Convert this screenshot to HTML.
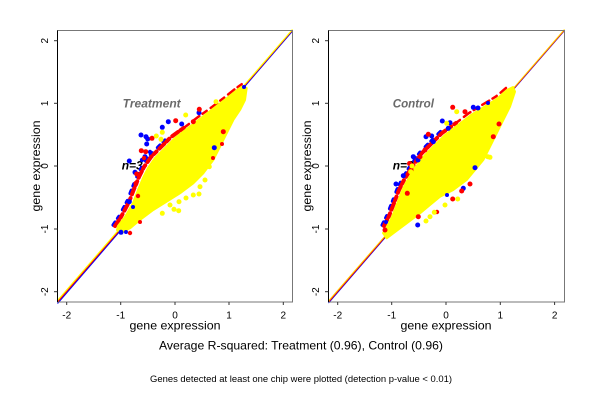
<!DOCTYPE html>
<html><head><meta charset="utf-8"><style>
html,body{margin:0;padding:0;background:#fff;}
svg{display:block;}
text{font-family:"Liberation Sans",Arial,sans-serif;}
</style></head><body>
<svg width="600" height="400" viewBox="0 0 600 400" xmlns="http://www.w3.org/2000/svg">
<rect width="600" height="400" fill="#fff"/>

<!-- ===== LEFT PANEL ===== -->
<g>
  <line x1="57.5" y1="303.5" x2="292.5" y2="31" stroke="#0000ff" stroke-width="1.2"/>
  <line x1="57.5" y1="302" x2="292.5" y2="30" stroke="#ff0000" stroke-width="1.2"/>
  <line x1="57.5" y1="300.5" x2="292.5" y2="29.5" stroke="#ffff00" stroke-width="1.2"/>
  <text x="122.7" y="107.3" font-size="12" font-weight="bold" font-style="italic" fill="#6a6a6a" textLength="58" lengthAdjust="spacingAndGlyphs">Treatment</text>
  <text x="121.7" y="169.5" font-size="12" font-weight="bold" font-style="italic" fill="#000" textLength="21" lengthAdjust="spacingAndGlyphs">n=3</text>
  <!-- fringe -->
  <polyline fill="none" stroke="#0000ff" stroke-width="4" stroke-dasharray="3 5 2 8" stroke-linecap="round" transform="translate(-1.5,-1)" points="115,226 121,217 129,202 134,189 139,177 144,167 151,157 161,147 171,137"/>
  <polyline fill="none" stroke="#ff0000" stroke-width="4" stroke-dasharray="7 3 4 4" stroke-linecap="round" points="115,226 121,217 129,202 134,189 139,177 144,167 151,157 161,147 171,137 185,127"/>
  <polyline fill="none" stroke="#ff0000" stroke-width="2.5" stroke-dasharray="5 5 8 4" stroke-linecap="round" points="185,127 198,117 212,107 225,97 235,89 242,84"/>
  <polygon fill="#ffff00" stroke="#ffff00" stroke-width="2" stroke-linejoin="round" points="118,226 125,217 133,203 138,190 143,178 148,168 155,158 165,148 175,138 188,128 201,118 214,108 227,98 237,90 243,86 246.7,88 245,100 240,110 233.3,120 226.7,133.3 220,146.7 213.3,160 203.3,173.3 193.3,183.3 180,193.3 166.7,201.7 153.3,210 140,220 130,228.3 121.7,232.7 117,230"/>
  <!-- outliers -->
  <g fill="#0000ff">
    <circle cx="168.3" cy="121.7" r="2.5"/><circle cx="141" cy="135" r="2.5"/>
    <circle cx="162.3" cy="127.3" r="2.5"/><circle cx="147.7" cy="139" r="2.5"/>
    <circle cx="146.7" cy="144" r="2.5"/><circle cx="129.3" cy="161" r="2.5"/>
    <circle cx="135" cy="172.3" r="2.5"/><circle cx="145" cy="156.7" r="2.5"/>
    <circle cx="181.7" cy="124" r="2.5"/><circle cx="146" cy="136.7" r="2.5"/>
    <circle cx="129.3" cy="201.7" r="2.5"/><circle cx="214.3" cy="147.7" r="2.5"/>
    <circle cx="199" cy="112.7" r="2.5"/><circle cx="121" cy="232.3" r="2.5"/>
    <circle cx="142" cy="160" r="2.2"/><circle cx="150" cy="152" r="2.2"/>
    <circle cx="133" cy="207" r="2"/><circle cx="126" cy="232" r="2"/>
    <circle cx="244" cy="87" r="2"/>
  </g>
  <g fill="#ff0000">
    <circle cx="199.3" cy="109.3" r="2.5"/><circle cx="175.7" cy="120.7" r="2.5"/>
    <circle cx="193.3" cy="121.7" r="2.5"/><circle cx="141.3" cy="150.7" r="2.5"/>
    <circle cx="145.7" cy="151.7" r="2.5"/><circle cx="152" cy="138.3" r="2.5"/>
    <circle cx="136" cy="183.3" r="2.5"/><circle cx="223.3" cy="131.7" r="2.5"/>
    <circle cx="136.7" cy="174" r="2.5"/><circle cx="138" cy="196" r="2.2"/>
    <circle cx="130" cy="233" r="2.2"/><circle cx="213" cy="158" r="2"/>
    <circle cx="222" cy="144" r="2"/><circle cx="140" cy="222" r="2"/>
    <circle cx="144" cy="158" r="2.2"/>
  </g>
  <g fill="#ffff00">
    <circle cx="216" cy="101.7" r="2.5"/><circle cx="199" cy="194" r="2.5"/>
    <circle cx="193.3" cy="195" r="2.5"/><circle cx="179" cy="201.7" r="2.5"/>
    <circle cx="174" cy="209.3" r="2.5"/><circle cx="162.3" cy="213.3" r="2.5"/>
    <circle cx="178.7" cy="210.7" r="2.5"/><circle cx="209.3" cy="166.7" r="2.5"/>
    <circle cx="200" cy="186.7" r="2.5"/><circle cx="156.3" cy="136" r="2.5"/>
    <circle cx="162.3" cy="132.3" r="2.5"/><circle cx="185.7" cy="115" r="2.5"/>
    <circle cx="161" cy="139.3" r="2.5"/><circle cx="205" cy="180" r="2.5"/>
    <circle cx="170" cy="205" r="2.5"/><circle cx="186" cy="198" r="2.5"/>
  </g>
  <rect x="57.5" y="30.5" width="235" height="271.5" fill="none" stroke="#777" stroke-width="1"/>
  <line x1="57.5" y1="30.5" x2="57.5" y2="302" stroke="#000" stroke-width="1"/>
  <g stroke="#333" stroke-width="1">
    <line x1="66.7" y1="302" x2="66.7" y2="305"/><line x1="120.7" y1="302" x2="120.7" y2="305"/>
    <line x1="175" y1="302" x2="175" y2="305"/><line x1="229" y1="302" x2="229" y2="305"/>
    <line x1="283.3" y1="302" x2="283.3" y2="305"/>
    <line x1="54" y1="40.7" x2="57.5" y2="40.7"/><line x1="54" y1="103.3" x2="57.5" y2="103.3"/>
    <line x1="54" y1="166" x2="57.5" y2="166"/><line x1="54" y1="229" x2="57.5" y2="229"/>
    <line x1="54" y1="291.7" x2="57.5" y2="291.7"/>
  </g>
  <g font-size="10" fill="#000" text-anchor="middle">
    <text x="66.7" y="318.5">-2</text><text x="120.7" y="318.5">-1</text>
    <text x="175" y="318.5">0</text><text x="229" y="318.5">1</text><text x="283.3" y="318.5">2</text>
    <text transform="translate(48,40.7) rotate(-90)">2</text>
    <text transform="translate(48,103.3) rotate(-90)">1</text>
    <text transform="translate(48,166) rotate(-90)">0</text>
    <text transform="translate(48,229) rotate(-90)">-1</text>
    <text transform="translate(48,291.7) rotate(-90)">-2</text>
  </g>
  <text x="175" y="329.5" font-size="12" text-anchor="middle" textLength="91" lengthAdjust="spacingAndGlyphs">gene expression</text>
  <text transform="translate(40,166) rotate(-90)" font-size="12" text-anchor="middle" textLength="91" lengthAdjust="spacingAndGlyphs">gene expression</text>
</g>

<!-- ===== RIGHT PANEL ===== -->
<g>
  <line x1="328.5" y1="303" x2="564.5" y2="30.5" stroke="#0000ff" stroke-width="1"/>
  <line x1="328.5" y1="302" x2="564.5" y2="30" stroke="#ff0000" stroke-width="1.2"/>
  <line x1="328.5" y1="301" x2="564.5" y2="29.5" stroke="#ffd000" stroke-width="1"/>
  <text x="392.7" y="107.3" font-size="12" font-weight="bold" font-style="italic" fill="#6a6a6a" textLength="41.3" lengthAdjust="spacingAndGlyphs">Control</text>
  <text x="392.7" y="169.5" font-size="12" font-weight="bold" font-style="italic" fill="#000" textLength="21" lengthAdjust="spacingAndGlyphs">n=3</text>
  <polyline fill="none" stroke="#0000ff" stroke-width="4" stroke-dasharray="3 5 2 8" stroke-linecap="round" transform="translate(-1.5,-1)" points="384,226 389,216 399,190 404,180 412,167 422,153 432,143 442,133"/>
  <polyline fill="none" stroke="#ff0000" stroke-width="4" stroke-dasharray="7 3 4 4" stroke-linecap="round" points="384,226 389,216 399,190 404,180 412,167 422,153 432,143 442,133 456,123"/>
  <polyline fill="none" stroke="#ff0000" stroke-width="2.5" stroke-dasharray="5 5 8 4" stroke-linecap="round" points="456,123 469,113 482,105 496,96.5 506,88"/>
  <polygon fill="#ffff00" stroke="#ffff00" stroke-width="2" stroke-linejoin="round" points="387,227 392,217 402,191 407,181 415,168 425,155 435,145 445,135 458,125 471,115 484,107 497,98.7 507,90 513,87 515,91.7 510,106.7 503.3,120 496.7,133.3 490,146.7 483.3,160 475,170 466.7,180 453.3,190 440,196.7 430,205 420,213.3 406.7,223.3 393.3,233.3 386.7,238.3 383,233"/>
  <g fill="#0000ff">
    <circle cx="442.3" cy="121" r="2.5"/><circle cx="450" cy="122.7" r="2.5"/>
    <circle cx="426" cy="136.7" r="2.5"/><circle cx="431.7" cy="136" r="2.5"/>
    <circle cx="413.3" cy="156.7" r="2.5"/><circle cx="403.3" cy="175.7" r="2.5"/>
    <circle cx="396" cy="184" r="2.5"/><circle cx="417.7" cy="225" r="2.5"/>
    <circle cx="473.3" cy="107.3" r="2.5"/><circle cx="475" cy="167.7" r="2.5"/>
    <circle cx="463.3" cy="188.3" r="2.5"/><circle cx="433.3" cy="141.7" r="2.5"/>
    <circle cx="448.3" cy="128.3" r="2.5"/><circle cx="418" cy="160" r="2.5"/>
    <circle cx="478" cy="108" r="2.5"/><circle cx="488" cy="103" r="2"/>
    <circle cx="386" cy="222" r="2"/><circle cx="447" cy="195" r="2"/>
  </g>
  <g fill="#ff0000">
    <circle cx="452.7" cy="107.3" r="2.5"/><circle cx="465" cy="111.7" r="2.5"/>
    <circle cx="428.3" cy="134.3" r="2.5"/><circle cx="420" cy="156.7" r="2.5"/>
    <circle cx="470" cy="184" r="2.5"/><circle cx="461.7" cy="191" r="2.5"/>
    <circle cx="452.7" cy="199" r="2.5"/><circle cx="418.3" cy="216.7" r="2.5"/>
    <circle cx="499" cy="124" r="2.5"/><circle cx="493.3" cy="136.7" r="2.5"/>
    <circle cx="407.3" cy="193.3" r="2.5"/><circle cx="425" cy="150" r="2.5"/>
    <circle cx="385" cy="230" r="2.5"/><circle cx="437" cy="212" r="2.2"/>
    <circle cx="409.5" cy="163.5" r="2.5"/><circle cx="411" cy="170" r="2.5"/>
  </g>
  <g fill="#ffff00">
    <circle cx="487.7" cy="156.7" r="2.5"/><circle cx="490" cy="157.3" r="2.5"/>
    <circle cx="457.7" cy="199" r="2.5"/><circle cx="430" cy="216.7" r="2.5"/>
    <circle cx="434.3" cy="212.3" r="2.5"/><circle cx="410.7" cy="171.7" r="2.5"/>
    <circle cx="446.7" cy="123.3" r="2.5"/><circle cx="456.7" cy="111.7" r="2.5"/>
    <circle cx="412" cy="166" r="2.5"/><circle cx="445" cy="205" r="2.5"/>
    <circle cx="426" cy="221" r="2.5"/>
  </g>
  <rect x="328.5" y="30.5" width="236" height="271.5" fill="none" stroke="#777" stroke-width="1"/>
  <line x1="328.5" y1="30.5" x2="328.5" y2="302" stroke="#000" stroke-width="1"/>
  <g stroke="#333" stroke-width="1">
    <line x1="337.7" y1="302" x2="337.7" y2="305"/><line x1="391.7" y1="302" x2="391.7" y2="305"/>
    <line x1="446" y1="302" x2="446" y2="305"/><line x1="500.3" y1="302" x2="500.3" y2="305"/>
    <line x1="554.6" y1="302" x2="554.6" y2="305"/>
    <line x1="325" y1="40.7" x2="328.5" y2="40.7"/><line x1="325" y1="103.3" x2="328.5" y2="103.3"/>
    <line x1="325" y1="166" x2="328.5" y2="166"/><line x1="325" y1="229" x2="328.5" y2="229"/>
    <line x1="325" y1="291.7" x2="328.5" y2="291.7"/>
  </g>
  <g font-size="10" fill="#000" text-anchor="middle">
    <text x="337.7" y="318.5">-2</text><text x="391.7" y="318.5">-1</text>
    <text x="446" y="318.5">0</text><text x="500.3" y="318.5">1</text><text x="554.6" y="318.5">2</text>
    <text transform="translate(319,40.7) rotate(-90)">2</text>
    <text transform="translate(319,103.3) rotate(-90)">1</text>
    <text transform="translate(319,166) rotate(-90)">0</text>
    <text transform="translate(319,229) rotate(-90)">-1</text>
    <text transform="translate(319,291.7) rotate(-90)">-2</text>
  </g>
  <text x="446" y="329.5" font-size="12" text-anchor="middle" textLength="91" lengthAdjust="spacingAndGlyphs">gene expression</text>
  <text transform="translate(311,166) rotate(-90)" font-size="12" text-anchor="middle" textLength="91" lengthAdjust="spacingAndGlyphs">gene expression</text>
</g>

<text x="301" y="349.5" font-size="12" text-anchor="middle" textLength="284" lengthAdjust="spacingAndGlyphs">Average R-squared: Treatment (0.96), Control (0.96)</text>
<text x="301" y="382" font-size="9" text-anchor="middle" textLength="302" lengthAdjust="spacingAndGlyphs">Genes detected at least one chip were plotted (detection p-value &lt; 0.01)</text>
</svg>
</body></html>
